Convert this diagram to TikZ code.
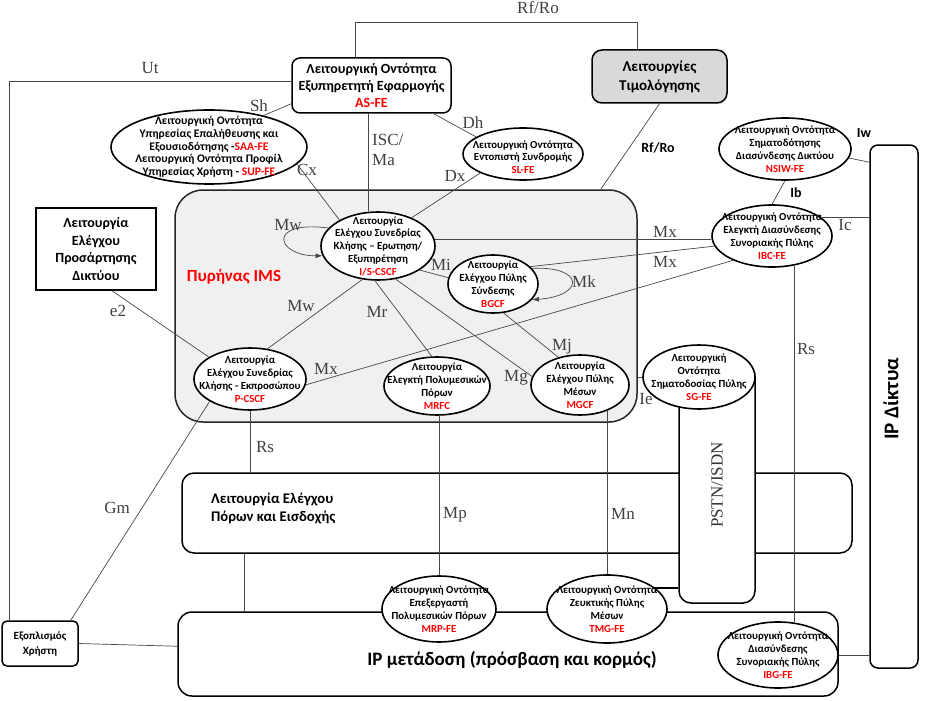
\documentclass[tikz,border=0pt]{standalone}
\usepackage{fontspec}
\setmainfont{Carlito}
\newfontfamily\tms{Liberation Serif}
\usetikzlibrary{shapes.geometric,arrows.meta,calc}
\begin{document}
\begin{tikzpicture}[x=1pt,y=-1pt,
  conn/.style={draw=black!72, line width=0.7pt},
  tip/.style={-{Latex[length=7pt,width=5pt]}},
  ell/.style={draw=black, line width=1.6pt, ellipse, fill=white, inner sep=0pt},
  etxt/.style={font=\bfseries\fontsize{10.8}{12.8}\selectfont, align=center, inner sep=0pt},
  bx/.style={draw=black, line width=1.5pt, inner sep=0pt, align=center},
  ifl/.style={font=\tms\fontsize{17}{20}\selectfont, text=black!75, inner sep=0pt},
  ifb/.style={font=\bfseries\fontsize{14}{16}\selectfont, inner sep=0pt},
]
\useasboundingbox (0,0) rectangle (930,701);

% ---------- large boxes ----------
\node[bx, draw=black!85, fill=black!6, rounded corners=28pt, minimum width=462pt, minimum height=232pt] (core) at (406,306) {};
\node[font=\bfseries\fontsize{17}{20}\selectfont, text=red, inner sep=0pt] (imsT) at (234,277) {Πυρήνας IMS};
\node[bx, rounded corners=12pt, minimum width=670pt, minimum height=80pt] (racf) at (517,513) {};
\node[font=\bfseries\fontsize{14.7}{18}\selectfont, align=left, anchor=west, inner sep=0pt] (racfT) at (211,508) {Λειτουργία Ελέγχου\\Πόρων και Εισδοχής};
\node[bx, rounded corners=14pt, minimum width=660pt, minimum height=84pt] (iptr) at (508,654) {};
\node[font=\bfseries\fontsize{19}{22}\selectfont, inner sep=0pt] (iptrT) at (512,660) {IP μετάδοση (πρόσβαση και κορμός)};
\node[bx, fill=white, rounded corners=12pt, minimum width=76pt, minimum height=238pt] (pstn) at (717,484) {};
\node[font=\tms\fontsize{17}{20}\selectfont, text=black!80, rotate=90, inner sep=0pt] (pstnT) at (717,485) {PSTN/ISDN};
\node[bx, rounded corners=8pt, minimum width=48pt, minimum height=523pt] (ipnet) at (894,406.5) {};
\node[font=\bfseries\fontsize{21}{24}\selectfont, rotate=90, inner sep=0pt] (ipnetT) at (891,399) {IP Δίκτυα};

% ---------- other boxes ----------
\node[bx, rounded corners=8pt, minimum width=159pt, minimum height=55pt, font=\bfseries\fontsize{14}{17}\selectfont] (as) at (371.5,85.5) {Λειτουργική Οντότητα\\Εξυπηρετητή Εφαρμογής\\\textcolor{red}{AS-FE}};
\node[bx, fill=black!15, rounded corners=10pt, minimum width=135pt, minimum height=53pt, font=\bfseries\fontsize{15}{19}\selectfont] (bill) at (659.5,76.5) {Λειτουργίες\\Τιμολόγησης};
\node[bx, minimum width=120pt, minimum height=82pt, font=\bfseries\fontsize{14}{17.5}\selectfont] (nacf) at (96,249) {Λειτουργία\\Ελέγχου\\Προσάρτησης\\Δικτύου};
\node[bx, rounded corners=5pt, minimum width=76pt, minimum height=45pt, font=\bfseries\fontsize{11}{15}\selectfont] (ue) at (40,643.5) {Εξοπλισμός\\Χρήστη};

% ---------- ellipses ----------
\node[ell, minimum width=196pt, minimum height=74pt] (saa) at (209,147) {};
\node[etxt, font=\bfseries\fontsize{11.6}{12.7}\selectfont] (saaT) at (saa.center) {Λειτουργική Οντότητα\\Υπηρεσίας Επαλήθευσης και\\Εξουσιοδότησης -\textcolor{red}{SAA-FE}\\Λειτουργική Οντότητα Προφίλ\\Υπηρεσίας Χρήστη - \textcolor{red}{SUP-FE}};
\node[ell, minimum width=120pt, minimum height=52pt] (sl) at (523,154) {};
\node[etxt] (slT) at (523,157) {Λειτουργική Οντότητα\\Εντοπιστή Συνδρομής\\\textcolor{red}{SL-FE}};
\node[ell, minimum width=132pt, minimum height=62pt] (nsiw) at (785,149) {};
\node[etxt] (nsiwT) at (nsiw.center) {Λειτουργική Οντότητα\\Σηματοδότησης\\Διασύνδεσης Δικτύου\\\textcolor{red}{NSIW-FE}};
\node[ell, minimum width=120pt, minimum height=62pt] (ibc) at (772,236) {};
\node[etxt] (ibcT) at (ibc.center) {Λειτουργική Οντότητα\\Ελεγκτή Διασύνδεσης\\Συνοριακής Πύλης\\\textcolor{red}{IBC-FE}};
\node[ell, minimum width=114pt, minimum height=68pt] (iscscf) at (378,246) {};
\node[etxt] (iscscfT) at (iscscf.center) {Λειτουργία\\Ελέγχου Συνεδρίας\\Κλήσης -- Ερωτηση/\\Εξυπηρέτηση\\\textcolor{red}{I/S-CSCF}};
\node[ell, minimum width=112pt, minimum height=62pt] (pcscf) at (250,379) {};
\node[etxt] (pcscfT) at (pcscf.center) {Λειτουργία\\Ελέγχου Συνεδρίας\\Κλήσης - Εκπροσώπου\\\textcolor{red}{P-CSCF}};
\node[ell, minimum width=90pt, minimum height=58pt] (bgcf) at (493,284) {};
\node[etxt] (bgcfT) at (bgcf.center) {Λειτουργία\\Ελέγχου Πύλης\\Σύνδεσης\\\textcolor{red}{BGCF}};
\node[ell, minimum width=106pt, minimum height=58pt] (mrfc) at (437,386) {};
\node[etxt] (mrfcT) at (mrfc.center) {Λειτουργία\\Ελεγκτή Πολυμεσικών\\Πόρων\\\textcolor{red}{MRFC}};
\node[ell, minimum width=98pt, minimum height=60pt] (mgcf) at (580,385) {};
\node[etxt] (mgcfT) at (mgcf.center) {Λειτουργία\\Ελέγχου Πύλης\\Μέσων\\\textcolor{red}{MGCF}};
\node[ell, minimum width=112pt, minimum height=64pt] (sg) at (699,377) {};
\node[etxt] (sgT) at (sg.center) {Λειτουργική\\Οντότητα\\Σηματοδοσίας Πύλης\\\textcolor{red}{SG-FE}};
\node[ell, minimum width=114pt, minimum height=66pt] (mrp) at (439,609) {};
\node[etxt] (mrpT) at (mrp.center) {Λειτουργική Οντότητα\\Επεξεργαστή\\Πολυμεσικών Πόρων\\\textcolor{red}{MRP-FE}};
\node[ell, minimum width=120pt, minimum height=68pt] (tmg) at (607,609) {};
\node[etxt] (tmgT) at (tmg.center) {Λειτουργική Οντότητα\\Ζευκτικής Πύλης\\Μέσων\\\textcolor{red}{TMG-FE}};
\node[ell, minimum width=120pt, minimum height=66pt] (ibg) at (778,655) {};
\node[etxt] (ibgT) at (ibg.center) {Λειτουργική Οντότητα\\Διασύνδεσης\\Συνοριακής Πύλης\\\textcolor{red}{IBG-FE}};

% ---------- connectors ----------
\coordinate (rfA) at (355,22);
\coordinate (rfB) at (637,22);
\draw[conn] (as.north -| rfA) -- (rfA) -- (rfB) -- (rfB |- bill.north);
\coordinate (utX) at (9,81);
\draw[conn] (as.west |- utX) -- (utX) -- (utX |- ue.north);
\draw[conn] (saa.30) -- ($(as.south west)+(0,-10)$);
\draw[conn] (saa.-11) -- (iscscf.146);
\coordinate (iscX) at (368,0);
\draw[conn] (as.south -| iscX) -- (iscscf.north -| iscX);
\draw[conn] ($(as.south east)+(-18,0)$) -- (sl.160);
\draw[conn] (sl.204) -- (iscscf.40);
\draw[conn] (bill.south) -- ($(core.north east)+(-37,0)$);
\draw[conn] ($(nacf.south)+(16,0)$) -- (pcscf.152);
\draw[conn] (pcscf.60) -- (iscscf.245);
\draw[conn,tip] (iscscf.160) .. controls (266,220) and (276,256) .. (iscscf.190);
\draw[conn] (iscscf.265) -- (mrfc.100);
\draw[conn] (iscscf.298) -- (mgcf.170);
\draw[conn] (iscscf.330) -- (bgcf.172);
\draw[conn] (iscscf.7) -- (iscscf.7 -| ibc.west);
\draw[conn] (bgcf.25) -- (ibc.190);
\draw[conn] (pcscf.-6) -- (ibc.212);
\draw[conn,tip] (bgcf.22) .. controls (585,266) and (585,296) .. (bgcf.-22);
\draw[conn] (bgcf.-70) -- (mgcf.128);
\draw[conn] (core.east |- sg.west) -- (sg.west);
\draw[conn] (tmg.north) -- (tmg.north |- mgcf.-43);
\draw[conn] (mrp.north) -- (mrp.north |- mrfc.south);
\draw[conn] (pcscf.south) -- (pcscf.south |- racf.north);
\draw[conn] (ibc.-53) -- (ibc.-53 |- ibg.63);
\coordinate (raX) at (244,0);
\draw[conn] (racf.south -| raX) -- (iptr.north -| raX);
\draw[conn] (ue.east) -- ($(iptr.north west)+(0,35)$);
\draw[conn] ($(ue.north east)+(-8,0)$) -- (pcscf.209);
\draw[conn] (nsiw.-8) -- ($(ipnet.north west)+(0,18)$);
\draw[conn] (nsiw.south) -- (ibc.north);
\draw[conn] (ibc.20) -- (ibc.20 -| ipnet.west);
\draw[conn] (ibg.east) -- (ibg.east -| ipnet.west);
\draw[line width=2pt] (tmg.24) -- (tmg.24 -| pstn.west);

% ---------- interface labels ----------
\node[ifl] (lUt) at (150,68) {Ut};
\node[ifl] (lRfRo) at (538,8) {Rf/Ro};
\node[ifl] (lSh) at (259,106) {Sh};
\node[ifl] (lCx) at (307,170) {Cx};
\node[ifl, align=left, anchor=west] (lIsc) at (372,150) {ISC/\\Ma};
\node[ifl] (lDh) at (473,123) {Dh};
\node[ifl] (lDx) at (455,176) {Dx};
\node[ifl] (lMw1) at (288,225) {Mw};
\node[ifl] (lMw2) at (301,306) {Mw};
\node[ifl] (le2) at (118,311) {e2};
\node[ifl] (lMx3) at (326,369) {Mx};
\node[ifl] (lMr) at (377,312) {Mr};
\node[ifl] (lMi) at (441,265) {Mi};
\node[ifl] (lMk) at (584,282) {Mk};
\node[ifl] (lMg) at (516,378) {Mg};
\node[ifl] (lMj) at (562,347) {Mj};
\node[ifl] (lMx1) at (665,232) {Mx};
\node[ifl] (lMx2) at (665,262) {Mx};
\node[ifl] (lIc) at (845,225) {Ic};
\node[ifl] (lRs2) at (806,349) {Rs};
\node[ifl] (lIe) at (646,399) {Ie};
\node[ifl] (lRs1) at (265,447) {Rs};
\node[ifl] (lGm) at (117,508) {Gm};
\node[ifl] (lMp) at (455,515) {Mp};
\node[ifl] (lMn) at (623,514) {Mn};
\node[ifb] (lRfRo2) at (658,148) {Rf/Ro};
\node[ifb] (lIw) at (864,133) {Iw};
\node[ifb] (lIb) at (796,193) {Ib};
\end{tikzpicture}
\end{document}
